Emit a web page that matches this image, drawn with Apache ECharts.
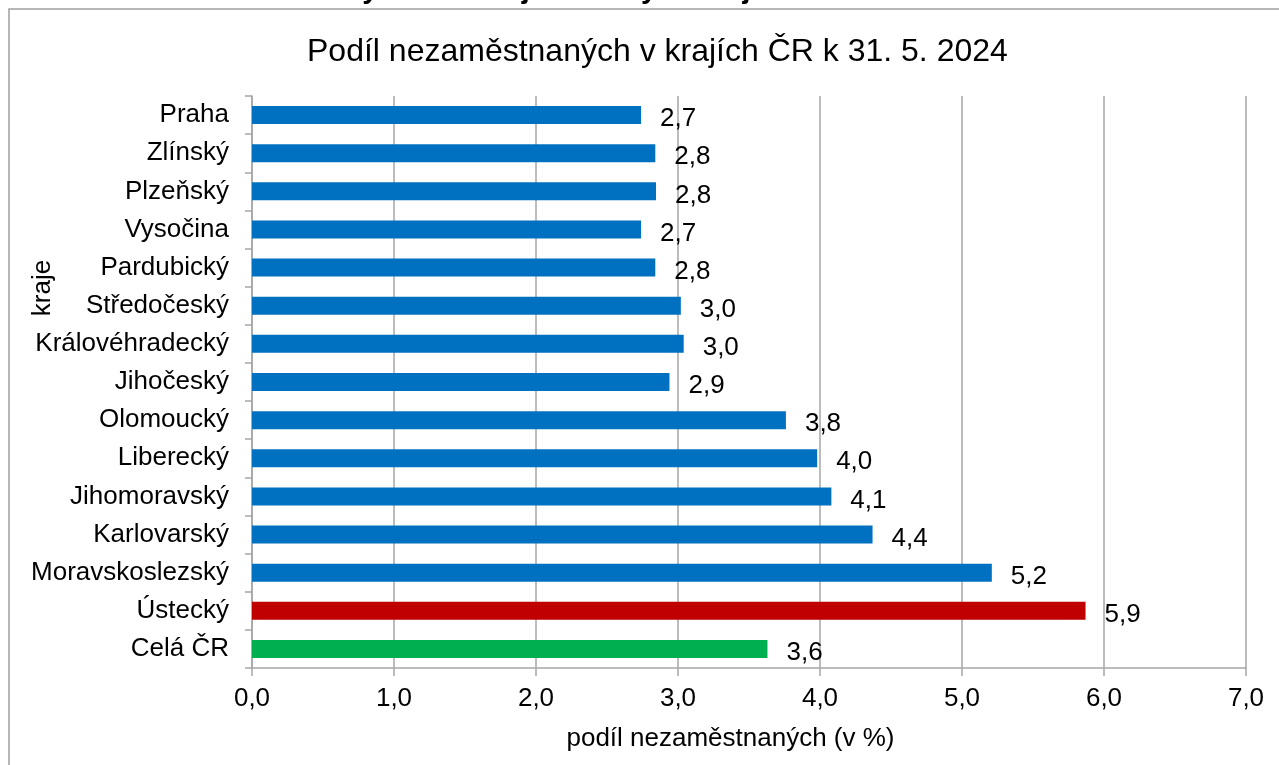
<!DOCTYPE html>
<html>
<head>
<meta charset="utf-8">
<script src="https://cdn.jsdelivr.net/npm/echarts@6/dist/echarts.min.js"></script>
<style>
html,body{margin:0;padding:0;background:#fff;}
#c{width:1279px;height:765px;}
</style>
</head>
<body>
<div id="c"></div>
<script>
const captionText = 'Graf 4: Podíl nezaměstnaných osob v jednotlivých krajích ČR k 31. 5. 2024';
const titleText = 'Podíl nezaměstnaných v krajích ČR k 31. 5. 2024';
const xAxisName = 'podíl nezaměstnaných (v %)';
const yAxisName = 'kraje';
const categories = ['Praha','Zlínský','Plzeňský','Vysočina','Pardubický','Středočeský','Královéhradecký','Jihočeský','Olomoucký','Liberecký','Jihomoravský','Karlovarský','Moravskoslezský','Ústecký','Celá ČR'];
const values = [2.74, 2.84, 2.845, 2.74, 2.84, 3.02, 3.04, 2.94, 3.76, 3.98, 4.08, 4.37, 5.21, 5.87, 3.63];
const highestRegion = 'Ústecký';
const wholeCountry = 'Celá ČR';

const FONT = '"Liberation Sans", Arial, sans-serif';
const fmt = v => v.toFixed(1).replace('.', ',');

const chart = echarts.init(document.getElementById('c'), null, {renderer: 'canvas'});
chart.setOption({
  animation: false,
  backgroundColor: '#fff',
  title: {
    text: titleText,
    left: 302,
    top: 31,
    textStyle: {fontFamily: FONT, fontSize: 32, fontWeight: 'normal', color: '#000'}
  },
  graphic: [
    {type: 'rect', shape: {x: 9, y: 9, width: 1300, height: 800}, style: {fill: 'none', stroke: '#a0a0a0', lineWidth: 1.5}, silent: true},
    {type: 'text', x: -2, y: 4, style: {text: captionText, font: 'bold 29px ' + FONT, fill: '#000', textAlign: 'left', textVerticalAlign: 'bottom'}},
    {type: 'text', x: 43, y: 288, rotation: Math.PI / 2, style: {text: yAxisName, font: '26px ' + FONT, fill: '#000', textAlign: 'center', textVerticalAlign: 'middle'}}
  ],
  grid: {left: 252, right: 33, top: 96, bottom: 97, containLabel: false},
  xAxis: {
    type: 'value',
    min: 0, max: 7, interval: 1,
    name: xAxisName,
    nameLocation: 'middle',
    nameGap: 58,
    nameTextStyle: {fontFamily: FONT, fontSize: 26, color: '#000', padding: [0, 37, 0, 0]},
    axisLine: {show: true, lineStyle: {color: '#a6a6a6', width: 1.5}},
    axisTick: {show: true, length: 8, lineStyle: {color: '#a6a6a6', width: 1.5}},
    axisLabel: {fontFamily: FONT, fontSize: 26, color: '#000', margin: 18, formatter: v => fmt(v)},
    splitLine: {show: true, lineStyle: {color: '#a6a6a6', width: 1.5}}
  },
  yAxis: {
    type: 'category',
    data: categories,
    inverse: true,
    axisLine: {show: true, lineStyle: {color: '#a6a6a6', width: 1.5}},
    axisTick: {show: true, length: 7, lineStyle: {color: '#a6a6a6', width: 1.5}},
    axisLabel: {fontFamily: FONT, fontSize: 26, color: '#000', margin: 23, padding: [4, 0, 0, 0]},
    splitLine: {show: false}
  },
  series: [{
    type: 'bar',
    data: values,
    barWidth: 18,
    itemStyle: {
      color: p => p.name === highestRegion ? '#C00000' : (p.name === wholeCountry ? '#00B050' : '#0070C0')
    },
    label: {
      show: true,
      position: 'right',
      distance: 19,
      offset: [0, 4],
      fontFamily: FONT,
      fontSize: 26,
      color: '#000',
      formatter: p => fmt(p.value)
    }
  }]
});
</script>
</body>
</html>
